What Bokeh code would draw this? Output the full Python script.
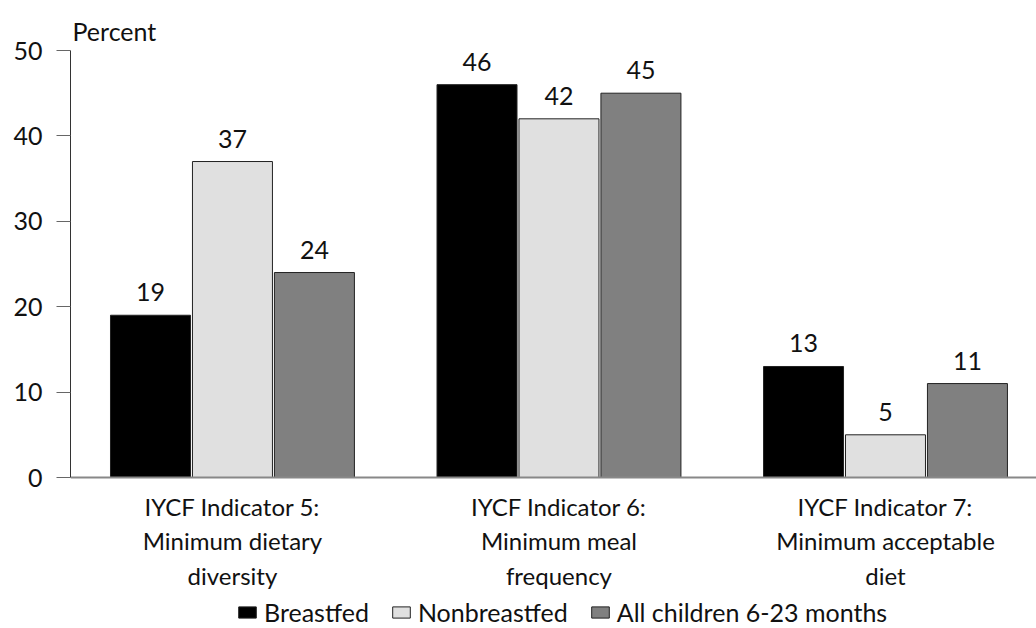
from bokeh.plotting import figure
from bokeh.models import ColumnDataSource, FixedTicker, Legend, LegendItem, Range1d
from bokeh.embed import file_html
from bokeh.resources import INLINE
from bokeh.core.properties import value

categories = ["IYCF Indicator 5:\nMinimum dietary\ndiversity",
              "IYCF Indicator 6:\nMinimum meal\nfrequency",
              "IYCF Indicator 7:\nMinimum acceptable\ndiet"]
series = ["Breastfed", "Nonbreastfed", "All children 6-23 months"]
breastfed = [19, 46, 13]
nonbreastfed = [37, 42, 5]
all_children = [24, 45, 11]
colors = ["#000000", "#e0e0e0", "#808080"]
y_ticks = [0, 10, 20, 30, 40, 50]

FONT = "Lato"

# frame spans the whole area below the title; the value axis runs 0..50,
# the space below 0 holds the category labels and the legend
p = figure(frame_width=966, frame_height=578, output_backend="svg", toolbar_location=None,
           x_range=Range1d(-0.496, 2.4625), y_range=Range1d(-17.68, 50),
           min_border_left=70, min_border_right=0, min_border_top=50, min_border_bottom=0)
p.outline_line_color = None
p.grid.grid_line_color = None

xs = list(range(len(categories)))
width = 0.245
offs = [-0.251, 0.0, 0.251]
renderers = []
for vals, off, col in zip([breastfed, nonbreastfed, all_children], offs, colors):
    src = ColumnDataSource(dict(x=[x + off for x in xs], top=vals, lab=[str(v) for v in vals]))
    r = p.vbar(x="x", top="top", bottom=0, width=width, source=src,
               fill_color=col, line_color="#222222", line_width=1)
    renderers.append(r)
    p.text(x="x", y="top", text="lab", source=src, text_align="center",
           text_baseline="bottom", y_offset=-14, text_font=value(FONT),
           text_font_size="25px", text_color="#111111")

p.xaxis.fixed_location = 0
p.xaxis.ticker = FixedTicker(ticks=xs)
p.xaxis.major_label_overrides = {i: c for i, c in enumerate(categories)}
p.xaxis.major_tick_line_color = None
p.xaxis.minor_tick_line_color = None
p.xaxis.axis_line_color = "#888888"
p.xaxis.axis_line_width = 2
p.xaxis.major_label_text_font = FONT
p.xaxis.major_label_text_font_size = "24px"
p.xaxis.major_label_text_color = "#111111"
p.xaxis.major_label_standoff = 8

p.yaxis.bounds = (0, 50)
p.yaxis.ticker = FixedTicker(ticks=y_ticks)
p.yaxis.minor_tick_line_color = None
p.yaxis.major_tick_out = 14
p.yaxis.major_tick_in = 0
p.yaxis.major_tick_line_color = "#666666"
p.yaxis.axis_line_color = "#333333"
p.yaxis.major_label_text_font = FONT
p.yaxis.major_label_text_font_size = "25px"
p.yaxis.major_label_text_color = "#111111"
p.yaxis.major_label_standoff = 14

p.title.text = "Percent"
p.title.text_font = FONT
p.title.text_font_size = "25px"
p.title.text_font_style = "normal"
p.title.text_color = "#111111"
p.title.align = "left"
p.title.offset = 2
p.title.standoff = 10

legend = Legend(items=[LegendItem(label=s, renderers=[r]) for s, r in zip(series, renderers)],
                orientation="horizontal", location=(166, 1))
legend.label_text_font = FONT
legend.label_text_font_size = "25px"
legend.label_text_color = "#111111"
legend.glyph_width = 22
legend.glyph_height = 14
legend.label_standoff = 6
legend.spacing = 21
legend.border_line_color = None
legend.background_fill_alpha = 0
legend.padding = 0
legend.margin = 0
p.add_layout(legend, "center")

open("out.html", "w").write(file_html(p, INLINE))
